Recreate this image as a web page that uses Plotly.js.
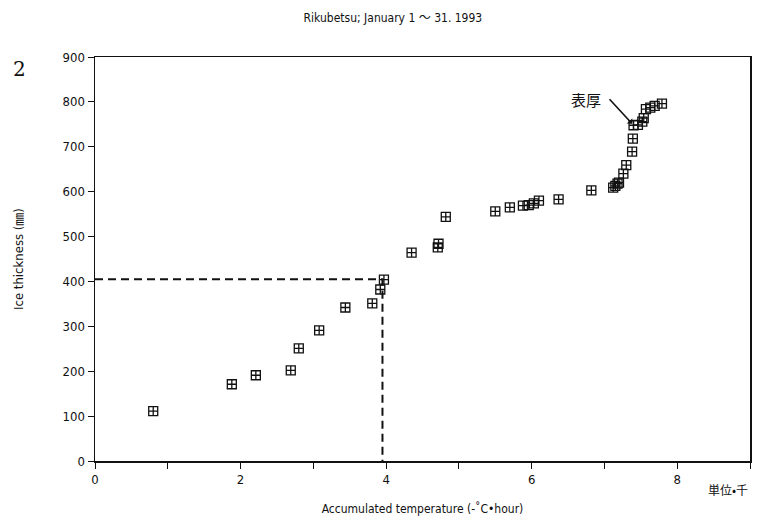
<!DOCTYPE html>
<html>
<head>
<meta charset="utf-8">
<script src="https://cdn.plot.ly/plotly-3.0.1.min.js"></script>
<style>html,body{margin:0;padding:0;background:#fff;}</style>
</head>
<body>
<div id="chart" style="width:760px;height:516px;"></div>
<script>
// Accumulated temperature (thousand -°C·hour)
const accTemp = [0.80, 1.88, 2.21, 2.69, 2.80, 3.08, 3.44, 3.81, 3.92, 3.97,
  4.35, 4.71, 4.72, 4.82, 5.50, 5.70, 5.88, 5.96, 6.03, 6.10, 6.37, 6.82,
  7.12, 7.15, 7.18, 7.20, 7.26, 7.30, 7.38, 7.39, 7.40, 7.46, 7.52, 7.54,
  7.57, 7.63, 7.69, 7.79];
// Ice thickness (mm)
const iceThickness = [111, 171, 191, 202, 251, 291, 342, 351, 382, 404,
  464, 476, 484, 544, 556, 565, 569, 570, 574, 580, 583, 603,
  609, 613, 618, 620, 640, 659, 689, 718, 748, 749, 756, 764,
  784, 787, 791, 796];
// Reference (dashed) guide
const guideX = [0, 3.95, 3.95];
const guideY = [405, 405, 0];
const xTickVals = [0, 1, 2, 3, 4, 5, 6, 7, 8, 9];
const xTickText = ['0', '', '2', '', '4', '', '6', '', '8', ''];
const yTickVals = [0, 100, 200, 300, 400, 500, 600, 700, 800, 900];

const FONT = '"DejaVu Sans Condensed", "Liberation Sans Narrow", "Noto Sans CJK JP", sans-serif';

const traces = [
  {
    x: guideX, y: guideY, mode: 'lines', type: 'scatter',
    line: {color: '#111', width: 2, dash: '8px,5px'},
    hoverinfo: 'skip', showlegend: false, cliponaxis: false
  },
  {
    x: accTemp, y: iceThickness, mode: 'markers', type: 'scatter',
    marker: {symbol: 'square-cross-open', size: 9, color: '#111', line: {width: 1.3, color: '#111'}},
    showlegend: false
  }
];

const layout = {
  width: 760, height: 516,
  margin: {l: 95, r: 10, t: 57, b: 55},
  paper_bgcolor: '#fff', plot_bgcolor: '#fff',
  font: {family: FONT, size: 12, color: '#111'},
  title: {text: 'Rikubetsu; January 1 ～ 31. 1993', x: 0.517, xanchor: 'center', y: 0.965, yanchor: 'middle',
          font: {family: FONT, size: 12, color: '#111'}},
  xaxis: {
    range: [0, 9], tickmode: 'array', tickvals: xTickVals, ticktext: xTickText,
    ticks: 'outside', ticklen: 6, tickwidth: 1, tickcolor: '#111',
    showline: true, linecolor: '#111', linewidth: 1.5, mirror: true,
    showgrid: false, zeroline: false,
    tickfont: {family: FONT, size: 13, color: '#111'},
    title: {text: 'Accumulated temperature (-˚C•hour)', standoff: 20,
            font: {family: FONT, size: 12, color: '#111'}}
  },
  yaxis: {
    range: [0, 900], tickmode: 'array', tickvals: yTickVals,
    ticks: 'outside', ticklen: 6, tickwidth: 1, tickcolor: '#111',
    showline: true, linecolor: '#111', linewidth: 1.5, mirror: true,
    showgrid: false, zeroline: false,
    tickfont: {family: FONT, size: 13, color: '#111'},
    title: {text: 'Ice thickness (㎜)', standoff: 36,
            font: {family: FONT, size: 13, color: '#111'}}
  },
  annotations: [
    {x: 7.40, y: 748, xref: 'x', yref: 'y', text: '表厚&nbsp;&nbsp;', showarrow: true,
     arrowhead: 1, arrowsize: 0.8, arrowwidth: 1.6, arrowcolor: '#111',
     ax: -24, ay: -26, standoff: 2,
     font: {family: '"Noto Sans CJK JP", sans-serif', size: 15, color: '#111'},
     xanchor: 'right', yanchor: 'middle'},
    {xref: 'paper', yref: 'paper', x: 1.0, y: -0.045, text: '単位•千', showarrow: false,
     xanchor: 'right', yanchor: 'top',
     font: {family: '"Noto Sans CJK JP", sans-serif', size: 12, color: '#111'}},
    {xref: 'paper', yref: 'paper', x: -0.115, y: 0.97, text: '2', showarrow: false,
     xanchor: 'center', yanchor: 'middle',
     font: {family: '"DejaVu Serif", serif', size: 20, color: '#111'}}
  ]
};

Plotly.newPlot('chart', traces, layout, {staticPlot: true, displayModeBar: false});
</script>
</body>
</html>
